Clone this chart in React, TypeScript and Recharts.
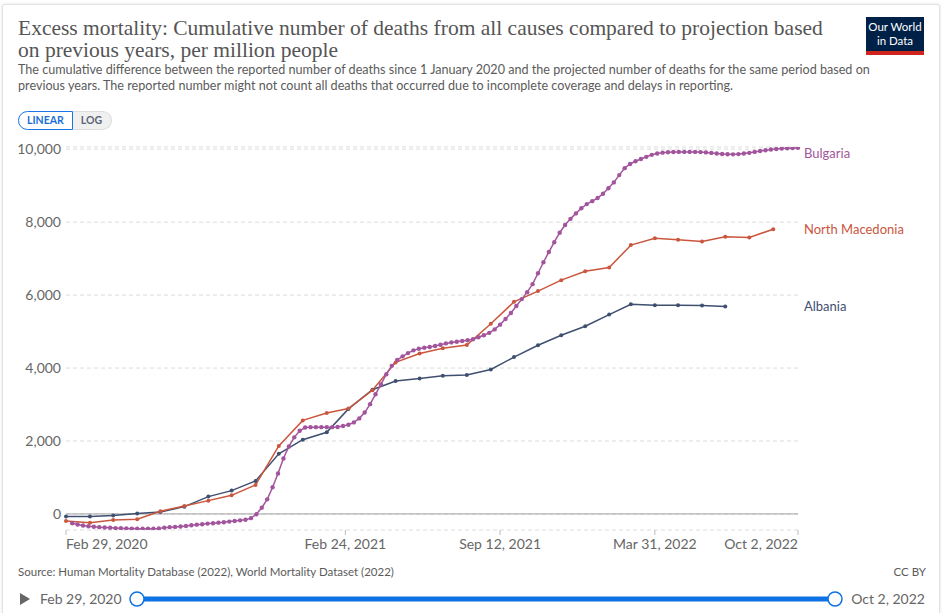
import React from "react";
import { CartesianGrid, Line, LineChart, ReferenceLine, XAxis, YAxis } from "recharts";

// month-end dates for the two monthly series
const monthEnds = [
  "2020-02-29", "2020-03-31", "2020-04-30", "2020-05-31", "2020-06-30", "2020-07-31",
  "2020-08-31", "2020-09-30", "2020-10-31", "2020-11-30", "2020-12-31", "2021-01-31",
  "2021-02-28", "2021-03-31", "2021-04-30", "2021-05-31", "2021-06-30", "2021-07-31",
  "2021-08-31", "2021-09-30", "2021-10-31", "2021-11-30", "2021-12-31", "2022-01-31",
  "2022-02-28", "2022-03-31", "2022-04-30", "2022-05-31", "2022-06-30", "2022-07-31",
  "2022-08-31",
];

const albaniaValues = [
  -70, -70, -40, 10, 55, 200, 475, 640, 905, 1650, 2035, 2240, 2880, 3405, 3645, 3715,
  3790, 3810, 3960, 4300, 4625, 4900, 5145, 5465, 5750, 5720, 5720, 5715, 5685,
];

const macedoniaValues = [
  -190, -240, -165, -145, 75, 220, 365, 510, 795, 1865, 2565, 2770, 2890, 3390, 4155, 4400,
  4540, 4630, 5215, 5815, 6110, 6410, 6655, 6755, 7370, 7560, 7515, 7470, 7600, 7580, 7805,
];

// weekly, Sundays from 8 Mar 2020 to 2 Oct 2022
const bulgariaStart = "2020-03-08";
const bulgariaValues = [
  -255, -290, -318, -338, -352, -362, -372, -380, -388, -393,
  -398, -402, -405, -406, -406, -405, -400, -375, -362, -355,
  -345, -330, -310, -293, -282, -265, -255, -238, -228, -210,
  -193, -175, -158, -115, -10, 170, 400, 730, 1110, 1520,
  1850, 2100, 2280, 2370, 2380, 2380, 2380, 2380, 2380, 2385,
  2410, 2445, 2510, 2620, 2780, 3010, 3280, 3550, 3830, 4060,
  4220, 4320, 4410, 4485, 4530, 4557, 4578, 4605, 4640, 4676,
  4703, 4722, 4740, 4760, 4790, 4845, 4900, 4965, 5060, 5190,
  5345, 5510, 5700, 5890, 6080, 6300, 6600, 6900, 7180, 7450,
  7710, 7920, 8090, 8240, 8380, 8495, 8575, 8660, 8780, 8930,
  9090, 9290, 9480, 9595, 9670, 9730, 9790, 9845, 9880, 9905,
  9918, 9922, 9925, 9925, 9925, 9925, 9920, 9912, 9898, 9880,
  9868, 9860, 9858, 9866, 9880, 9900, 9925, 9950, 9970, 9990,
  10005, 10018, 10025, 10030, 10040,
];

const xTickDates = ["2020-02-29", "2021-02-24", "2021-09-12", "2022-03-31", "2022-10-02"];
const xTickLabels = ["Feb 29, 2020", "Feb 24, 2021", "Sep 12, 2021", "Mar 31, 2022", "Oct 2, 2022"];
const yTicks = [0, 2000, 4000, 6000, 8000, 10000];

const ORIGIN = Date.UTC(2020, 1, 29);
function dayOf(iso: string) {
  const [y, m, d] = iso.split("-").map(Number);
  return Math.round((Date.UTC(y, m - 1, d) - ORIGIN) / 86400000);
}

const albania = albaniaValues.map((value, i) => ({ day: dayOf(monthEnds[i]), value }));
const macedonia = macedoniaValues.map((value, i) => ({ day: dayOf(monthEnds[i]), value }));
const bulgaria = bulgariaValues.map((value, i) => ({ day: dayOf(bulgariaStart) + 7 * i, value }));
const xTicks = xTickDates.map(dayOf);

const BULGARIA = "#a2559c";
const MACEDONIA = "#ca563d";
const ALBANIA = "#3f4f6f";
const FONT = "Lato, 'Noto Sans', sans-serif";

function endLabel(name: string, color: string, count: number, dy: number) {
  return (props: any) => {
    if (props.index !== count - 1) return null;
    return (
      <text x={804} y={props.y + dy} fill={color} fontSize={13} fontFamily={FONT} dominantBaseline="middle">
        {name}
      </text>
    );
  };
}

function DateTick(props: any) {
  const { x, y, index } = props;
  const last = xTickLabels.length - 1;
  const anchor = index === 0 ? "start" : index === last ? "end" : "middle";
  return (
    <g>
      <line x1={x} x2={x} y1={y - 8} y2={y - 3} stroke="#bbb" />
      <text x={x} y={y + 11} textAnchor={anchor} fill="#666" fontSize={14} fontFamily={FONT}>
        {xTickLabels[index]}
      </text>
    </g>
  );
}

export default function App() {
  return (
    <div style={{ position: "absolute", left: 0, top: 0, width: 943, height: 613, overflow: "hidden", background: "#fff", fontFamily: FONT }}>
      <div style={{ position: "absolute", left: 2, top: 4, width: 936, height: 640, border: "1px solid #e2e2e2", boxShadow: "0 0 3px rgba(0,0,0,0.12)", borderRadius: 2 }} />

      <div style={{ position: "absolute", left: 18, top: 17, color: "#555", fontFamily: "'Liberation Serif', 'DejaVu Serif', serif", fontSize: 21.5, lineHeight: "22px", whiteSpace: "nowrap" }}>
        <div>Excess mortality: Cumulative number of deaths from all causes compared to projection based</div>
        <div>on previous years, per million people</div>
      </div>
      <div style={{ position: "absolute", left: 18, top: 62, color: "#5b5b5b", fontSize: 12.6, lineHeight: "16px", whiteSpace: "nowrap" }}>
        <div>The cumulative difference between the reported number of deaths since 1 January 2020 and the projected number of deaths for the same period based on</div>
        <div>previous years. The reported number might not count all deaths that occurred due to incomplete coverage and delays in reporting.</div>
      </div>

      <div style={{ position: "absolute", left: 866, top: 17, width: 58, height: 38, background: "#002147", color: "#fff", fontSize: 11.5, lineHeight: "14px", textAlign: "center", paddingTop: 3, boxSizing: "border-box" }}>
        <div>Our World</div>
        <div>in Data</div>
        <div style={{ position: "absolute", left: 0, bottom: 0, width: 58, height: 4, background: "#ce261e" }} />
      </div>

      <div style={{ position: "absolute", left: 18, top: 111, height: 19, display: "flex", fontSize: 10.5, fontWeight: 700 }}>
        <div style={{ border: "1px solid #1a73e8", color: "#1a6fd6", borderRadius: "10px 0 0 10px", padding: "0 8px", lineHeight: "17px", background: "#fff" }}>LINEAR</div>
        <div style={{ border: "1px solid #ddd", borderLeft: "none", color: "#5a6678", borderRadius: "0 10px 10px 0", padding: "0 9px 0 8px", lineHeight: "17px", background: "#f0f0f0" }}>LOG</div>
      </div>

      <div style={{ position: "absolute", left: 0, top: 0 }}>
        <LineChart width={943} height={560} margin={{ top: 147, right: 145, left: 10, bottom: 0 }}>
          <CartesianGrid vertical={false} stroke="#dcdcdc" strokeDasharray="4 3" />
          <XAxis
            dataKey="day"
            type="number"
            domain={[0, 946]}
            ticks={xTicks}
            axisLine={false}
            tickLine={false}
            tickSize={6}
            tickMargin={2}
            height={30}
            interval={0}
            tick={<DateTick />}
          />
          <YAxis
            type="number"
            domain={[-440, 10060]}
            ticks={yTicks}
            width={56}
            axisLine={false}
            tickLine={false}
            tickSize={0}
            tickMargin={5}
            allowDataOverflow
            tickFormatter={(v: number) => v.toLocaleString("en-US")}
            tick={{ fill: "#666", fontSize: 14, fontFamily: FONT }}
          />
          <ReferenceLine y={0} stroke="#a0a0a0" strokeWidth={1} />
          <Line
            data={albania}
            dataKey="value"
            type="linear"
            stroke={ALBANIA}
            strokeWidth={1.5}
            dot={{ r: 2, fill: ALBANIA, stroke: ALBANIA, strokeWidth: 0 }}
            isAnimationActive={false}
            label={endLabel("Albania", ALBANIA, albania.length, 1)}
          />
          <Line
            data={macedonia}
            dataKey="value"
            type="linear"
            stroke={MACEDONIA}
            strokeWidth={1.5}
            dot={{ r: 2, fill: MACEDONIA, stroke: MACEDONIA, strokeWidth: 0 }}
            isAnimationActive={false}
            label={endLabel("North Macedonia", MACEDONIA, macedonia.length, 1)}
          />
          <Line
            data={bulgaria}
            dataKey="value"
            type="linear"
            stroke={BULGARIA}
            strokeWidth={1.5}
            dot={{ r: 2.2, fill: BULGARIA, stroke: BULGARIA, strokeWidth: 0 }}
            isAnimationActive={false}
            label={endLabel("Bulgaria", BULGARIA, bulgaria.length, 7)}
          />
        </LineChart>
      </div>

      <div style={{ position: "absolute", left: 18, top: 565, fontSize: 11.5, color: "#5b5b5b" }}>
        Source: Human Mortality Database (2022), World Mortality Dataset (2022)
      </div>
      <div style={{ position: "absolute", right: 17, top: 565, fontSize: 11.5, color: "#5b5b5b" }}>CC BY</div>

      <svg style={{ position: "absolute", left: 0, top: 585 }} width={943} height={28}>
        <path d="M20 8 L30 14 L20 20 Z" fill="#666" />
        <text x={40} y={19} fontSize={14} fill="#666" fontFamily={FONT}>Feb 29, 2020</text>
        <rect x={137} y={11.5} width={698} height={5} fill="#0e71e4" />
        <circle cx={137} cy={14} r={7} fill="#fff" stroke="#0e71e4" strokeWidth={1.5} />
        <circle cx={835} cy={14} r={7} fill="#fff" stroke="#0e71e4" strokeWidth={1.5} />
        <text x={925} y={19} textAnchor="end" fontSize={14} fill="#666" fontFamily={FONT}>Oct 2, 2022</text>
      </svg>
    </div>
  );
}
